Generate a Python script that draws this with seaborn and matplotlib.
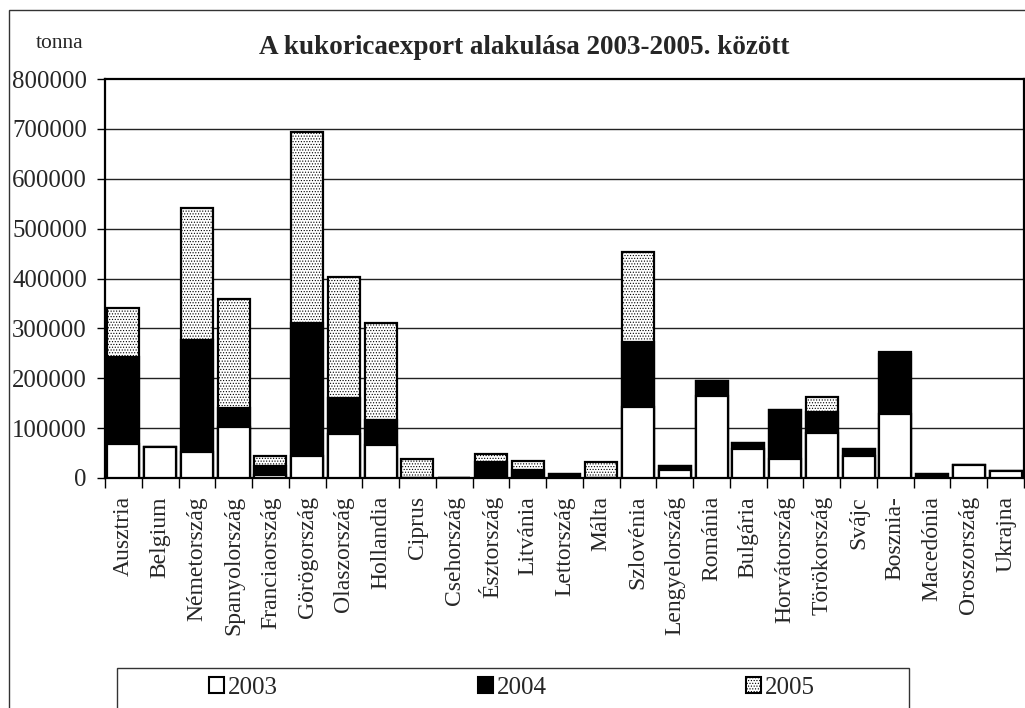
import matplotlib
matplotlib.use("Agg")
import matplotlib.pyplot as plt
import seaborn as sns
import pandas as pd
import numpy as np
from matplotlib.patches import Patch, Rectangle
from matplotlib.ticker import FixedLocator

categories = ["Ausztria", "Belgium", "Németország", "Spanyolország", "Franciaország",
              "Görögország", "Olaszország", "Hollandia", "Ciprus", "Csehország",
              "Észtország", "Litvánia", "Lettország", "Málta", "Szlovénia",
              "Lengyelország", "Románia", "Bulgária", "Horvátország", "Törökország",
              "Svájc", "Bosznia-", "Macedónia", "Oroszország", "Ukrajna"]
v2003 = [68000, 63000, 53000, 103000, 6000, 45000, 88000, 66000, 0, 0,
         0, 0, 0, 0, 142000, 17000, 165000, 59000, 38000, 91000,
         44000, 128000, 0, 26000, 15000]
v2004 = [174000, 0, 223000, 38000, 19000, 265000, 73000, 51000, 0, 1000,
         32000, 17000, 9000, 0, 131000, 7000, 30000, 12000, 99000, 41000,
         14000, 120000, 9000, 0, 0]
v2005 = [98000, 0, 265000, 217000, 20000, 384000, 242000, 194000, 39000, 0,
         16000, 17000, 0, 32000, 180000, 0, 0, 0, 0, 30000,
         1000, 4000, 0, 0, 0]
years = ["2003", "2004", "2005"]
yticks = [0, 100000, 200000, 300000, 400000, 500000, 600000, 700000, 800000]
ytick_labels = ["0", "100000", "200000", "300000", "400000", "500000", "600000", "700000", "800000"]
title = "A kukoricaexport alakulása 2003-2005. között"
unit = "tonna"

sns.set_theme(style="white")
plt.rcParams["font.family"] = ["Liberation Serif", "DejaVu Serif"]
plt.rcParams["hatch.linewidth"] = 0.5

df = pd.DataFrame({"cat": categories, "a": v2003, "b": v2004, "c": v2005})
df["s1"] = df["a"]
df["s2"] = df["a"] + df["b"]
df["s3"] = df["a"] + df["b"] + df["c"]

W, H = 1025, 708
fig = plt.figure(figsize=(W / 100, H / 100), dpi=100)
ax = fig.add_axes([105 / W, (H - 478) / H, (1024 - 105) / W, (478 - 79) / H])

common = dict(x="cat", order=categories, width=0.87, saturation=1, errorbar=None,
              edgecolor="black", linewidth=1.6, ax=ax, zorder=3)
sns.barplot(data=df, y="s3", color="white", hatch="......", **common)
sns.barplot(data=df, y="s2", color="black", **common)
sns.barplot(data=df, y="s1", color="white", **common)

ax.set_xlim(-0.5, len(categories) - 0.5)
ax.set_ylim(0, 800000)
ax.set_yticks(yticks)
ax.set_yticklabels(ytick_labels, fontsize=17.8)
ax.set_xticks(range(len(categories)))
ax.set_xticklabels(categories, rotation=90, fontsize=17)
ax.xaxis.set_minor_locator(FixedLocator(np.arange(-0.5, len(categories), 1.0)))
ax.tick_params(axis="x", which="major", length=0, pad=13)
ax.tick_params(axis="x", which="minor", bottom=True, length=7, width=1, color="black", direction="out")
ax.tick_params(axis="y", which="major", left=True, length=6, width=1, color="black", direction="out", pad=7)
ax.set_xlabel("")
ax.set_ylabel("")
for y in yticks[1:-1]:
    ax.axhline(y, color="#222222", lw=1, zorder=1)
for s in ax.spines.values():
    s.set_visible(True)
    s.set_color("black")
    s.set_linewidth(1.6)

fig.text(524 / W, (H - 48) / H, title, ha="center", va="center", fontsize=19.5, fontweight="bold")
fig.text(60 / W, (H - 44) / H, unit, ha="center", va="center", fontsize=15.5)

# figure frame
fig.patches.append(Rectangle((9 / W, -0.1), 1.2, (H - 10) / H + 0.1, transform=fig.transFigure,
                             fill=False, edgecolor="#333333", lw=1))
# legend box
fig.patches.append(Rectangle((117 / W, -0.1), (909 - 117) / W, (H - 668) / H + 0.1,
                             transform=fig.transFigure, fill=False, edgecolor="#333333", lw=1))
handles = [Patch(facecolor="white", edgecolor="black", lw=1.5),
           Patch(facecolor="black", edgecolor="black", lw=1.5),
           Patch(facecolor="white", edgecolor="black", hatch="......", lw=1.5)]
fig.legend(handles, years, loc="center", bbox_to_anchor=(512 / W, (H - 688) / H), ncol=3,
           frameon=False, fontsize=18, handlelength=0.6, handleheight=0.6,
           handletextpad=0.15, columnspacing=8.0)

fig.savefig("out.png", dpi=100)
